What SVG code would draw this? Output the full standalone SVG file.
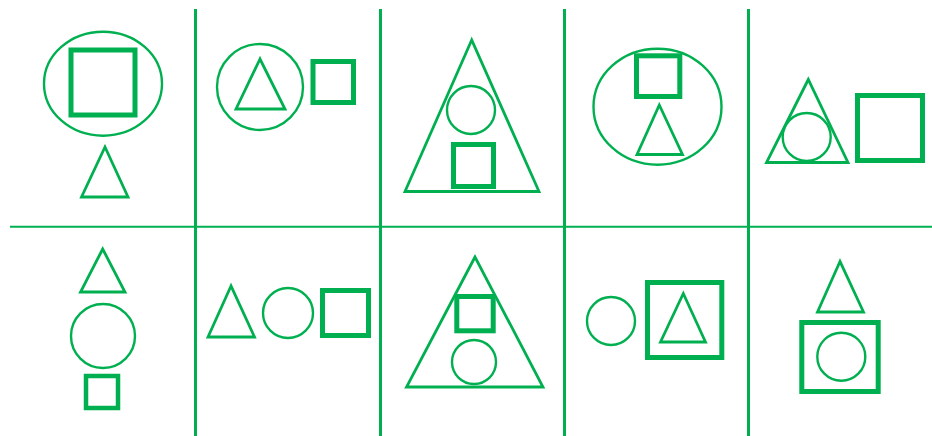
<svg xmlns="http://www.w3.org/2000/svg" width="932" height="436" viewBox="0 0 932 436">
<style>
.t{fill:none;stroke:#00B050;stroke-width:2.4}
.tr{fill:none;stroke:#00B050;stroke-width:2.8;stroke-linejoin:miter}
.s{fill:none;stroke:#00B050;stroke-width:5}
.g{stroke:#00B050;stroke-width:3}
.h{stroke:#00B050;stroke-width:2}
</style>
<rect width="932" height="436" fill="#fff"/>
<g id="grid">
<line class="g" x1="195.5" y1="9" x2="195.5" y2="436"/>
<line class="g" x1="380.5" y1="9" x2="380.5" y2="436"/>
<line class="g" x1="564.5" y1="9" x2="564.5" y2="436"/>
<line class="g" x1="748.5" y1="9" x2="748.5" y2="436"/>
<line class="h" x1="10" y1="226.7" x2="932" y2="226.7"/>
</g>
<g id="cell1">
<ellipse class="t" cx="103" cy="83.7" rx="59" ry="52"/>
<rect class="s" x="71" y="50" width="64" height="65"/>
<polygon class="tr" points="105,147 81.5,197 128,197"/>
</g>
<g id="cell2">
<circle class="t" cx="260" cy="87" r="43"/>
<polygon class="tr" points="260,59 236,109 285,109"/>
<rect class="s" x="313" y="61.5" width="40.5" height="41"/>
</g>
<g id="cell3">
<polygon class="tr" points="471.7,40 405,191.5 539,191.5"/>
<circle class="t" cx="471" cy="110" r="24"/>
<rect class="s" x="453.5" y="144.5" width="40" height="42"/>
</g>
<g id="cell4">
<ellipse class="t" cx="657.5" cy="106.7" rx="64" ry="58"/>
<rect class="s" x="636.5" y="55.8" width="43.3" height="40.7"/>
<polygon class="tr" points="659.3,105 637,154.5 682.5,154.5"/>
</g>
<g id="cell5">
<polygon class="tr" points="808.3,79.5 766.5,162.5 848,162.5"/>
<circle class="t" cx="806.7" cy="137" r="24"/>
<rect class="s" x="857.5" y="95.5" width="65" height="65"/>
</g>
<g id="cell6">
<polygon class="tr" points="102.7,249 80.5,292 125,292"/>
<circle class="t" cx="103" cy="336" r="32"/>
<rect class="s" x="86" y="376" width="32" height="32" style="stroke-width:4.5"/>
</g>
<g id="cell7">
<polygon class="tr" points="231,286 208,337 254.5,337"/>
<circle class="t" cx="288" cy="313" r="25"/>
<rect class="s" x="322.5" y="290.5" width="46" height="45"/>
</g>
<g id="cell8">
<polygon class="tr" points="475,257 406.5,387 543,387"/>
<rect class="s" x="456.8" y="296.5" width="36.4" height="34.3"/>
<circle class="t" cx="474" cy="362" r="22"/>
</g>
<g id="cell9">
<circle class="t" cx="611" cy="321" r="24"/>
<rect class="s" x="647.5" y="282.5" width="74.3" height="75"/>
<polygon class="tr" points="683.3,293.5 660.5,342 705.5,342"/>
</g>
<g id="cell10">
<polygon class="tr" points="840,261.5 817.5,312 863.5,312"/>
<rect class="s" x="801.8" y="322.5" width="76.4" height="69"/>
<circle class="t" cx="841.3" cy="356.7" r="24"/>
</g>
</svg>
